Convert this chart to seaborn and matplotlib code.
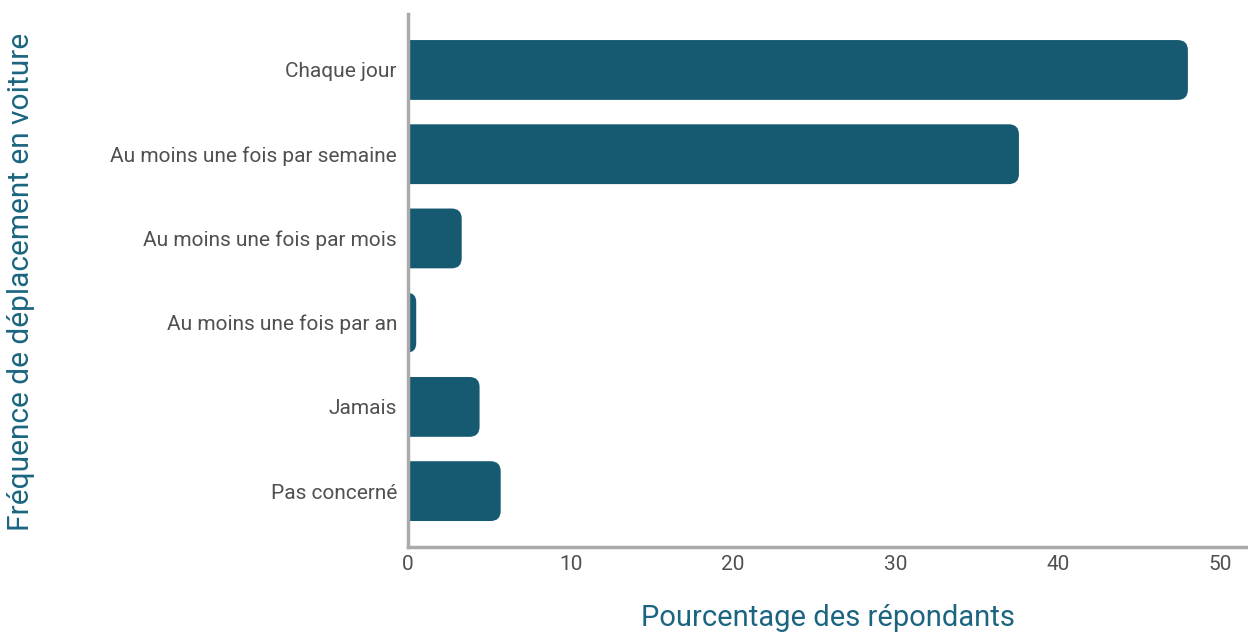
import pandas as pd
import matplotlib.pyplot as plt
import seaborn as sns
from matplotlib.patches import FancyBboxPatch

categories = [
    'Chaque jour',
    'Au moins une fois par semaine',
    'Au moins une fois par mois',
    'Au moins une fois par an',
    'Jamais',
    'Pas concerné',
]
percentages = [48.0, 37.6, 3.3, 0.5, 4.4, 5.7]

BAR_COLOR = '#165a72'
LABEL_COLOR = '#1b6580'
TICK_COLOR = '#505050'
SPINE_COLOR = '#aaaaaa'


def main():
    sns.set_style('white')
    plt.rcParams['font.family'] = ['Roboto', 'DejaVu Sans']

    data = pd.DataFrame({'freq': categories, 'pct': percentages})

    fig = plt.figure(figsize=(12.48, 6.34), dpi=100)
    ax = fig.add_axes([0.327, 0.137, 0.673, 0.841])
    sns.barplot(data=data, x='pct', y='freq', color=BAR_COLOR, width=0.71,
                saturation=1, ax=ax)

    ax.set_xlim(0, 51.7)
    ax.set_ylim(5.665, -0.665)

    # swap the plain bars for bars with rounded right ends
    r = 0.62
    aspect = (84.2 / 16.24) ** -1
    for p in list(ax.patches):
        x0, y0 = p.get_x(), p.get_y()
        w, h = p.get_width(), p.get_height()
        p.remove()
        rr = min(r, (w + r) / 2)
        box = FancyBboxPatch((x0 - r, y0), w + r, h,
                             boxstyle=f'round,pad=0,rounding_size={rr}',
                             mutation_aspect=aspect,
                             facecolor=BAR_COLOR, edgecolor='none')
        ax.add_patch(box)

    for side in ['top', 'right']:
        ax.spines[side].set_visible(False)
    for side in ['left', 'bottom']:
        ax.spines[side].set_color(SPINE_COLOR)
        ax.spines[side].set_linewidth(2.5)
        ax.spines[side].set_zorder(5)

    ax.set_xticks([0, 10, 20, 30, 40, 50])
    ax.tick_params(axis='both', length=0, labelsize=15, colors=TICK_COLOR)
    ax.tick_params(axis='y', pad=8)
    ax.tick_params(axis='x', pad=6)

    ax.set_xlabel('Pourcentage des répondants', fontsize=21, color=LABEL_COLOR,
                  labelpad=21)
    ax.set_ylabel('')
    fig.text(0.017, 0.555, 'Fréquence de déplacement en voiture', rotation=90,
             fontsize=21.5, color=LABEL_COLOR, ha='center', va='center')

    fig.savefig('out.png', dpi=100)
    plt.close(fig)


if __name__ == '__main__':
    main()
